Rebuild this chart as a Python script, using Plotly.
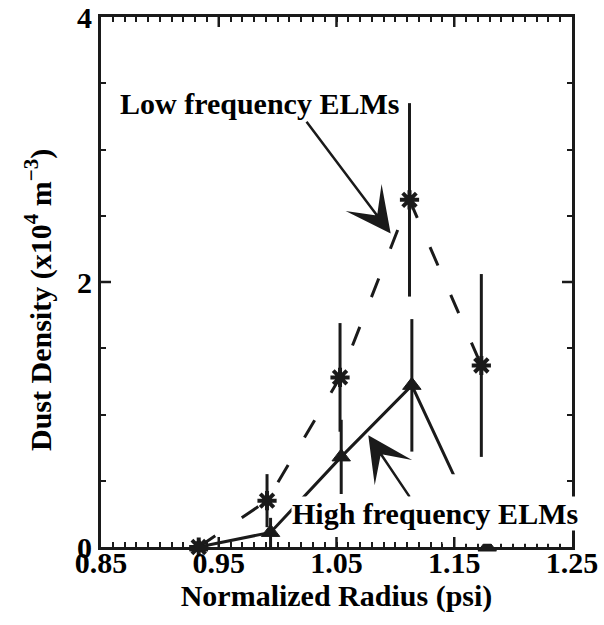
import numpy as np
import plotly.graph_objects as go

# Low frequency ELMs (asterisks, dashed)
low_x = [0.933, 0.991, 1.053, 1.112, 1.173]
low_y = [0.0, 0.35, 1.28, 2.62, 1.37]
low_err = [0.0, 0.20, 0.41, 0.73, 0.69]

# High frequency ELMs (triangles, solid)
high_x = [0.933, 0.994, 1.054, 1.114, 1.178]
high_y = [0.0, 0.11, 0.68, 1.22, 0.0]
high_err = [0.0, 0.11, 0.28, 0.50, 0.0]

x_range = [0.85, 1.25]
x_labels = ["0.85", "0.95", "1.05", "1.15", "1.25"]
x_label_vals = [0.85, 0.95, 1.05, 1.15, 1.25]
x_fine_step = 0.01
y_range = [0, 4]
y_labels = ["0", "2", "4"]
y_label_vals = [0, 2, 4]
y_fine_step = 0.5

FONT = "Liberation Serif"
BLACK = "#1a1a1a"
FS = 30


def fine_ticks(rng, step, vals, labels):
    pos = np.round(np.arange(rng[0], rng[1] + 1e-9, step), 3)
    text = []
    for v in pos:
        lab = ""
        for t, s in zip(vals, labels):
            if abs(v - t) < 1e-6:
                lab = s
        text.append(lab)
    return pos.tolist(), text


x_fine, x_text = fine_ticks(x_range, x_fine_step, x_label_vals, x_labels)
y_fine, y_text = fine_ticks(y_range, y_fine_step, y_label_vals, y_labels)

fig = go.Figure()
fig.add_trace(go.Scatter(
    x=low_x, y=low_y, mode="lines+markers",
    line=dict(color=BLACK, width=3, dash="20px,32px"),
    marker=dict(symbol="asterisk-open", size=16, line=dict(color=BLACK, width=4)),
    error_y=dict(type="data", array=low_err, visible=True, width=0, thickness=3, color=BLACK),
    showlegend=False, cliponaxis=False,
))
fig.add_trace(go.Scatter(
    x=high_x, y=high_y, mode="lines+markers",
    line=dict(color=BLACK, width=3),
    marker=dict(symbol="triangle-up", size=16, color=BLACK, line=dict(color=BLACK, width=1)),
    error_y=dict(type="data", array=high_err, visible=True, width=0, thickness=3, color=BLACK),
    showlegend=False, cliponaxis=False,
))

# white box behind the lower label (hides the tail of the solid line, as in the original)
fig.add_shape(type="rect", xref="x", yref="y", x0=1.14, x1=1.245, y0=0.025, y1=0.55,
              fillcolor="white", line=dict(width=0), layer="above")

# longer tick marks at the labelled values (bottom/top, left/right)
LONG = 10
for t in x_label_vals[1:-1]:
    for y0, y1 in [(0, LONG / 530), (1 - LONG / 530, 1)]:
        fig.add_shape(type="line", xref="x", yref="paper", x0=t, x1=t, y0=y0, y1=y1,
                      line=dict(color=BLACK, width=2.5), layer="above")
for t in y_label_vals[1:-1]:
    for x0, x1 in [(0, LONG / 471), (1 - LONG / 471, 1)]:
        fig.add_shape(type="line", xref="paper", yref="y", x0=x0, x1=x1, y0=t, y1=t,
                      line=dict(color=BLACK, width=2.5), layer="above")

fig.add_annotation(x=1.096, y=2.366, ax=1.0236, ay=3.22, xref="x", yref="y",
                   axref="x", ayref="y", text="", showarrow=True,
                   arrowhead=3, arrowsize=3.0, arrowwidth=2.5, arrowcolor=BLACK)
fig.add_annotation(x=1.077, y=0.843, ax=1.113, ay=0.367, xref="x", yref="y",
                   axref="x", ayref="y", text="", showarrow=True,
                   arrowhead=3, arrowsize=3.0, arrowwidth=2.5, arrowcolor=BLACK)
fig.add_annotation(x=0.9845, y=3.35, xref="x", yref="y", text="Low frequency ELMs",
                   showarrow=False, font=dict(family=FONT, size=FS, color="black", weight="bold"))
fig.add_annotation(x=1.1338, y=0.254, xref="x", yref="y", text="High frequency ELMs",
                   showarrow=False, bgcolor="white", borderpad=0,
                   font=dict(family=FONT, size=FS, color="black", weight="bold"))
fig.add_annotation(x=(38 - 101) / 471, y=(547 - 300) / 530, xref="paper", yref="paper",
                   xanchor="center", yanchor="middle",
                   text="Dust Density (x10<sup>4</sup> m<sup>\u22123</sup>)",
                   textangle=-90, showarrow=False,
                   font=dict(family=FONT, size=FS, color="black", weight="bold"))

axis_common = dict(showline=True, linecolor=BLACK, linewidth=3, mirror="allticks",
                   ticks="inside", tickcolor=BLACK, tickwidth=2, ticklen=5,
                   showgrid=False, zeroline=False, tickmode="array", automargin=False,
                   tickfont=dict(family=FONT, size=FS, color="black", weight="bold"))

fig.update_layout(
    width=604, height=625,
    margin=dict(l=101, r=32, t=17, b=78),
    paper_bgcolor="white", plot_bgcolor="white",
    xaxis=dict(range=x_range, tickvals=x_fine, ticktext=x_text,
               ticklabelstandoff=-13,
               title=dict(text="Normalized Radius (psi)", standoff=0,
                          font=dict(family=FONT, size=FS, color="black", weight="bold")),
               **axis_common),
    yaxis=dict(range=y_range, tickvals=y_fine, ticktext=y_text, **axis_common),
)

fig.write_html("out.html", config={"displayModeBar": False},
               post_script="document.body.style.margin='0';")
